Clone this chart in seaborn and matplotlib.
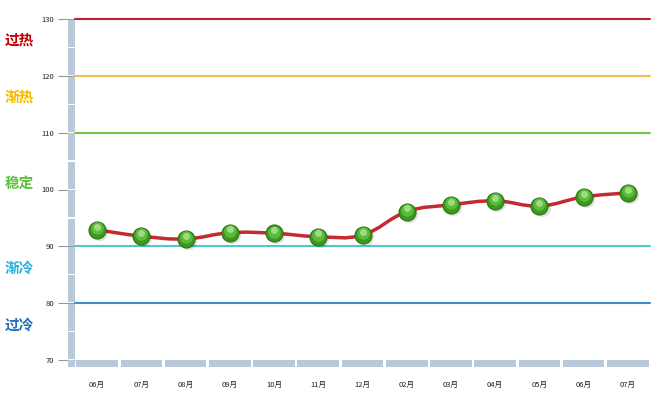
import matplotlib.pyplot as plt
import matplotlib.transforms as mtransforms
from matplotlib.patches import Rectangle, PathPatch
from matplotlib.path import Path
import numpy as np
import pandas as pd
import seaborn as sns

# data
months = ["06月", "07月", "08月", "09月", "10月", "11月", "12月",
          "02月", "03月", "04月", "05月", "06月", "07月"]
values = [92.9, 91.8, 91.3, 92.4, 92.3, 91.7, 92.0, 96.1, 97.3, 98.0, 97.1, 98.7, 99.4]

levels = [130, 120, 110, 90, 80]
level_colors = ["#b8262b", "#f7c04a", "#6cc644", "#4fc8c8", "#3b8fd0"]

zone_names = ["过热", "渐热", "稳定", "渐冷", "过冷"]
zone_pos = [126.3, 116.3, 101.1, 86.2, 76.2]
zone_colors = ["#c00000", "#f5b800", "#5cc23a", "#28b4d8", "#2870b8"]

sns.set_theme(style="white")
plt.rcParams['font.family'] = ['Noto Sans CJK SC', 'DejaVu Sans']

fig = plt.figure(figsize=(6.7, 3.99), dpi=100)
ax = fig.add_axes([75 / 670, 1 - 360 / 399, 575 / 670, 341 / 399])

df = pd.DataFrame({"x": np.arange(len(months)), "month": months, "value": values})

ax.set_xlim(-0.5, len(months) - 0.5)
ax.set_ylim(70, 130)

# threshold lines
for lv, c in zip(levels, level_colors):
    ax.axhline(lv, color=c, lw=1.5, zorder=2, clip_on=False)

# smooth red line through the points (cubic bezier path)
xs = df["x"].to_numpy(float)
ys = df["value"].to_numpy(float)
verts = [(xs[0], ys[0])]
codes = [Path.MOVETO]
t = 0.2
for i in range(len(xs) - 1):
    p0 = (xs[max(i - 1, 0)], ys[max(i - 1, 0)])
    p1 = (xs[i], ys[i])
    p2 = (xs[i + 1], ys[i + 1])
    p3 = (xs[min(i + 2, len(xs) - 1)], ys[min(i + 2, len(xs) - 1)])
    c1 = (p1[0] + (p2[0] - p0[0]) * t, p1[1] + (p2[1] - p0[1]) * t)
    c2 = (p2[0] - (p3[0] - p1[0]) * t, p2[1] - (p3[1] - p1[1]) * t)
    verts += [c1, c2, p2]
    codes += [Path.CURVE4] * 3
ax.add_patch(PathPatch(Path(verts, codes), fill=False, edgecolor="#c42a2f", lw=2.5, zorder=3))

# markers: shadow, ball, soft highlight
shadow = ax.transData + mtransforms.ScaledTranslation(1.5 / 72, -1.5 / 72, fig.dpi_scale_trans)
ax.scatter(df["x"], df["value"], s=150, color="#000000", alpha=0.12, lw=0, zorder=4,
           transform=shadow)
sns.scatterplot(data=df, x="x", y="value", s=150, color="#3a9a1e", edgecolor="#2c7514",
                linewidth=0.8, zorder=5, ax=ax, legend=False)
hl = ax.transData + mtransforms.ScaledTranslation(0, 1.2 / 72, fig.dpi_scale_trans)
ax.scatter(df["x"], df["value"], s=80, color="#6cc84a", alpha=0.7, lw=0, zorder=6,
           transform=hl)
hl2 = ax.transData + mtransforms.ScaledTranslation(0, 2.4 / 72, fig.dpi_scale_trans)
ax.scatter(df["x"], df["value"], s=25, color="#b5eda0", alpha=0.7, lw=0, zorder=6,
           transform=hl2)

# left and bottom bars
bw_x = 7 / 44.23
bw_y = 7 / 5.683
for y0 in np.arange(70, 130, 5):
    ax.add_patch(Rectangle((-0.5 - bw_x, y0 + 0.12), bw_x, 5 - 0.24, color="#b9c9d9",
                           lw=0, clip_on=False, zorder=7))
for i in range(len(months)):
    ax.add_patch(Rectangle((i - 0.5 + 0.03, 70 - bw_y), 0.94, bw_y, color="#b9c9d9",
                           lw=0, clip_on=False, zorder=7))
ax.add_patch(Rectangle((-0.5 - bw_x, 70 - bw_y), bw_x, bw_y, color="#b9c9d9",
                       lw=0, clip_on=False, zorder=7))

ax.set_xticks(df["x"])
ax.set_xticklabels(months, fontsize=5.5, color="#222222")
ax.set_yticks(np.arange(70, 131, 10))
ax.set_yticklabels([str(v) for v in range(70, 131, 10)], fontsize=5.5, color="#222222")
ax.tick_params(axis="x", length=0, pad=15)
ax.tick_params(axis="y", left=True, length=12, width=0.8, color="#999999", pad=3)
for s in ax.spines.values():
    s.set_visible(False)
ax.set_xlabel("")
ax.set_ylabel("")

for name, yp, c in zip(zone_names, zone_pos, zone_colors):
    yf = ax.transData.transform((0, yp))[1]
    fig.text(5 / 670, yf / fig.bbox.height, name, color=c, fontsize=10.5,
             fontweight="bold", ha="left", va="center")

fig.savefig("out.png", dpi=100)
